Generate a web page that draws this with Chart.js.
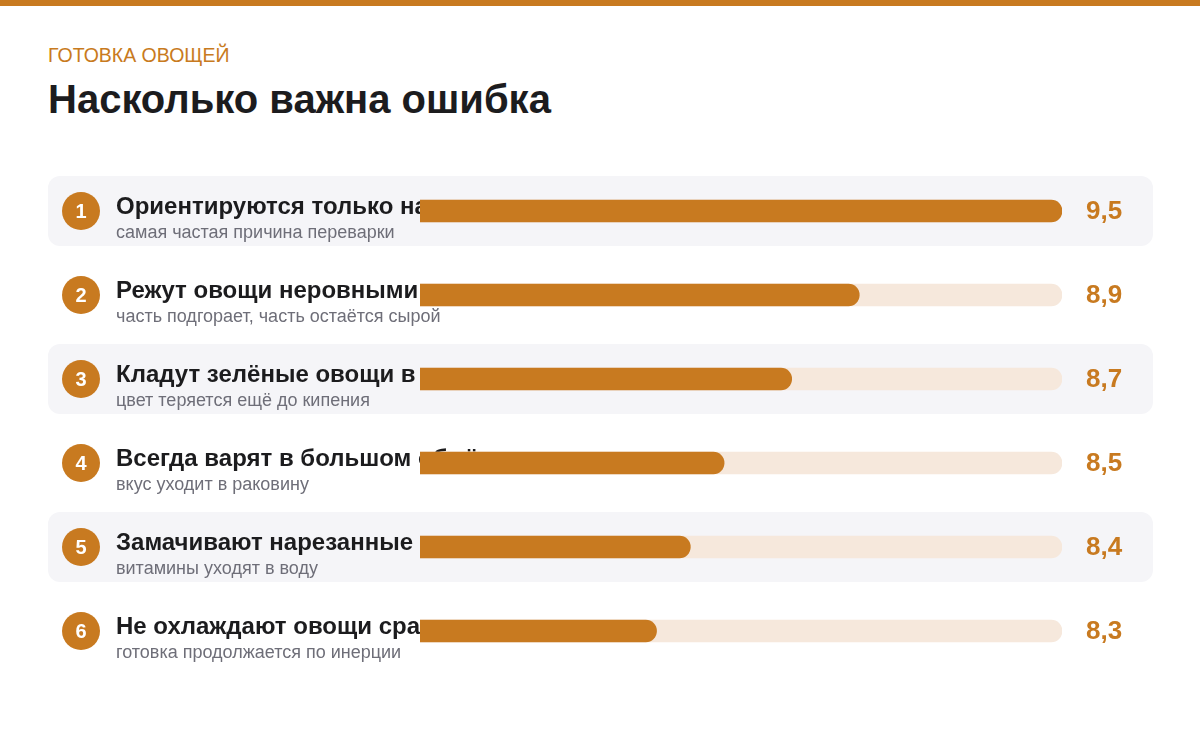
<!DOCTYPE html>
<html lang="ru">
<head>
<meta charset="utf-8">
<script src="https://cdn.jsdelivr.net/npm/chart.js@4/dist/chart.umd.min.js"></script>
<style>
    html, body { margin: 0; padding: 0; background: #fff; }
    body { width: 1200px; height: 731px; position: relative; overflow: hidden; font-family: "Liberation Sans", Arial, sans-serif; }
    .stripe { position: absolute; left: 0; top: 0; width: 1200px; height: 6px; background: #c87a20; }
    .kicker { position: absolute; left: 48px; top: 44px; font-size: 19.5px; color: #c87a20; }
    .title { position: absolute; left: 48px; top: 77px; font-size: 40px; font-weight: bold; color: #1c1c1e; }
    #wrap { position: absolute; left: 0; top: 0; width: 1200px; height: 731px; }
</style>
</head>
<body>
<div class="stripe"></div>
<div class="kicker">ГОТОВКА ОВОЩЕЙ</div>
<div class="title">Насколько важна ошибка</div>
<div id="wrap"><canvas id="chart"></canvas></div>

<script>
const labels = [
    'Ориентируются только на время в рецепте',
    'Режут овощи неровными кусками',
    'Кладут зелёные овощи в холодную воду',
    'Всегда варят в большом объёме воды',
    'Замачивают нарезанные овощи впрок',
    'Не охлаждают овощи сразу после варки'
];
const notes = [
    'самая частая причина переварки',
    'часть подгорает, часть остаётся сырой',
    'цвет теряется ещё до кипения',
    'вкус уходит в раковину',
    'витамины уходят в воду',
    'готовка продолжается по инерции'
];
const scores = [9.5, 8.9, 8.7, 8.5, 8.4, 8.3];
const scaleMin = 7.6;
const scaleMax = 9.5;

const accent = '#c87a20';

// cards, circles and captions go under the bars, values after
const rowsPlugin = {
    id: 'rows',
    beforeDatasetsDraw(chart) {
        const ctx = chart.ctx;
        const y = chart.scales.y;
        ctx.save();
        labels.forEach((label, i) => {
            const cy = y.getPixelForValue(i);
            if (i % 2 === 0) {
                ctx.fillStyle = '#f5f5f8';
                ctx.beginPath();
                ctx.roundRect(48, cy - 35, 1105, 70, 12);
                ctx.fill();
            }
            ctx.fillStyle = accent;
            ctx.beginPath();
            ctx.arc(81, cy, 19, 0, Math.PI * 2);
            ctx.fill();
            ctx.fillStyle = '#fff';
            ctx.font = 'bold 20px "Liberation Sans", Arial, sans-serif';
            ctx.textAlign = 'center';
            ctx.textBaseline = 'middle';
            ctx.fillText(String(i + 1), 81, cy + 1);

            ctx.textAlign = 'left';
            ctx.textBaseline = 'alphabetic';
            ctx.fillStyle = '#1c1c1e';
            ctx.font = 'bold 24px "Liberation Sans", Arial, sans-serif';
            ctx.fillText(label, 116, cy + 3);
            ctx.fillStyle = '#6e6e78';
            ctx.font = '18px "Liberation Sans", Arial, sans-serif';
            ctx.fillText(notes[i], 116, cy + 27);
        });
        ctx.restore();
    },
    afterDatasetsDraw(chart) {
        const ctx = chart.ctx;
        const y = chart.scales.y;
        ctx.save();
        ctx.fillStyle = accent;
        ctx.font = 'bold 26px "Liberation Sans", Arial, sans-serif';
        ctx.textAlign = 'left';
        ctx.textBaseline = 'alphabetic';
        scores.forEach((v, i) => {
            const cy = y.getPixelForValue(i);
            ctx.fillText(v.toFixed(1).replace('.', ','), 1086, cy + 8);
        });
        ctx.restore();
    }
};

new Chart(document.getElementById('chart'), {
    type: 'bar',
    data: {
        labels: labels,
        datasets: [{
            label: 'Оценка',
            data: scores,
            backgroundColor: accent,
            borderRadius: 11,
            borderSkipped: false,
            barThickness: 22,
            grouped: false,
            order: 0
        }, {
            label: 'Шкала',
            data: scores.map(() => scaleMax),
            backgroundColor: '#f6e8dc',
            borderRadius: 11,
            borderSkipped: false,
            barThickness: 22,
            grouped: false,
            order: 1
        }]
    },
    options: {
        indexAxis: 'y',
        responsive: true,
        maintainAspectRatio: false,
        animation: false,
        layout: { padding: { left: 420, right: 138, top: 169, bottom: 58 } },
        scales: {
            x: { display: false, min: scaleMin, max: scaleMax },
            y: { display: false }
        },
        plugins: {
            legend: { display: false },
            tooltip: { enabled: false }
        }
    },
    plugins: [rowsPlugin]
});
</script>
</body>
</html>
